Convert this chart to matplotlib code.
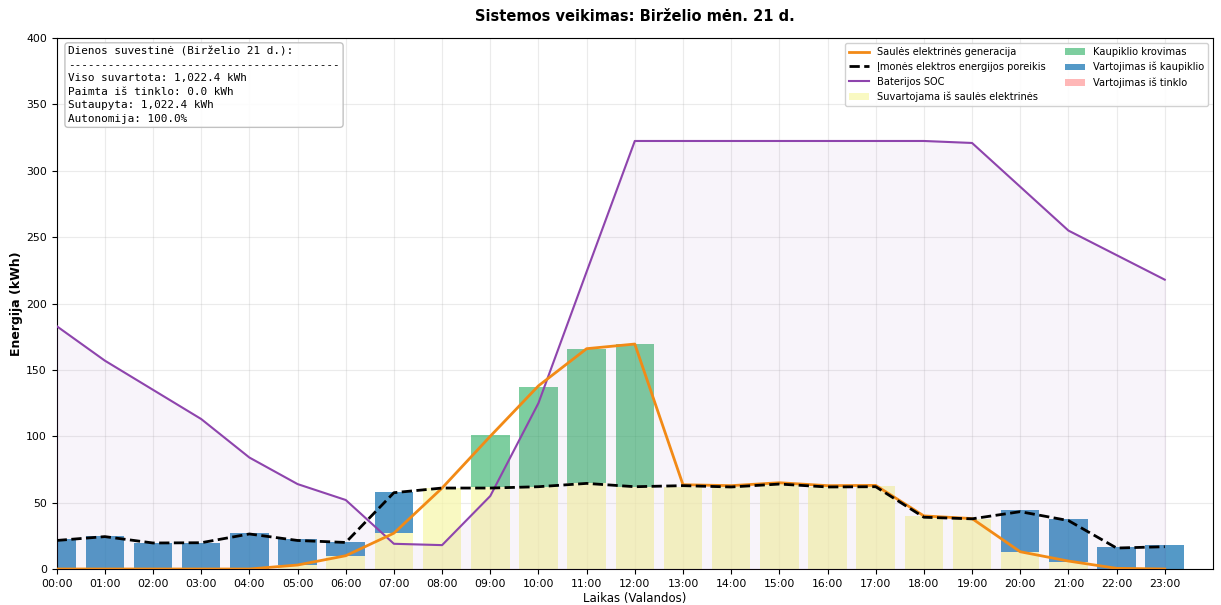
import matplotlib.pyplot as plt
import numpy as np

hours = list(range(24))
hour_labels = [f"{h:02d}:00" for h in hours]

# hourly values (kWh)
solar = [0, 0, 0, 0, 0, 3, 10, 27, 61, 100, 138, 166, 169.5, 63.5,
         62.8, 65, 62.8, 63, 40, 38, 13, 6, 0.5, 0]
demand = [21.5, 24.4, 19.6, 19.8, 26.4, 21.5, 20, 57.5, 61, 61, 62, 64.5, 62, 62.8,
          61.8, 64, 61.8, 62, 39, 37.8, 43.2, 36.5, 15.8, 16.8]
soc = [183, 157, 135, 113, 84, 64, 52, 19, 18, 55, 125, 224, 322.5, 322.5,
       322.5, 322.5, 322.5, 322.5, 322.5, 321, 288, 255, 236.5, 218]

solar_used = [0, 0, 0, 0, 0, 3, 9.8, 26.9, 61, 62, 62, 64.5, 62, 62,
              62, 64, 62, 62.5, 40, 38, 13, 5.5, 0, 0]
charge = [0, 0, 0, 0, 0, 0, 0, 0, 0, 39, 75, 101, 107.5, 0,
          0, 0, 0, 0, 0, 0, 0, 0, 0, 0]
discharge = [22.3, 25.1, 19.8, 19.8, 26.9, 19.6, 10.8, 31.4, 0, 0, 0, 0, 0, 0,
             0, 0, 0, 0, 0, 0, 31.4, 32.2, 16.8, 18]
grid = [0] * 24

summary = ("Dienos suvestinė (Birželio 21 d.):\n"
           + "-" * 41 + "\n"
           "Viso suvartota: 1,022.4 kWh\n"
           "Paimta iš tinklo: 0.0 kWh\n"
           "Sutaupyta: 1,022.4 kWh\n"
           "Autonomija: 100.0%")

fig, ax = plt.subplots(figsize=(12.21, 6.05), dpi=100)
fig.subplots_adjust(left=0.0464, right=0.9934, top=0.937, bottom=0.0595)

x = np.array(hours)
w = 0.8
su = np.array(solar_used)
ch = np.array(charge)
dis = np.array(discharge)

b_sun = ax.bar(x, su, w, color='#f7f7a8', alpha=0.7, label='Suvartojama iš saulės elektrinės', zorder=2)
b_ch = ax.bar(x, ch, w, bottom=su, color='#27ae60', alpha=0.6, label='Kaupiklio krovimas', zorder=2)
b_dis = ax.bar(x, dis, w, bottom=su, color='#2980b9', alpha=0.8, label='Vartojimas iš kaupiklio', zorder=2)
b_grid = ax.bar(x, grid, w, bottom=su + dis, color='#ff9999', alpha=0.7, label='Vartojimas iš tinklo', zorder=2)

ax.fill_between(x, soc, color='#8e44ad', alpha=0.06, zorder=3)

l_sol, = ax.plot(x, solar, color='#f28a16', lw=2, label='Saulės elektrinės generacija', zorder=5)
l_dem, = ax.plot(x, demand, color='black', lw=2, ls='--', label='Įmonės elektros energijos poreikis', zorder=6)
l_soc, = ax.plot(x, soc, color='#8e44ad', lw=1.5, label='Baterijos SOC', zorder=4)

ax.set_xlim(0, 24)
ax.set_ylim(0, 400)
ax.set_xticks(x)
ax.set_xticklabels(hour_labels, fontsize=7.8)
ax.tick_params(axis='y', labelsize=7.8)
ax.grid(True, alpha=0.25, zorder=0)
ax.set_axisbelow(True)

ax.set_xlabel('Laikas (Valandos)', fontsize=8.5, labelpad=2)
ax.set_ylabel('Energija (kWh)', fontsize=9, fontweight='bold', labelpad=2)
ax.set_title('Sistemos veikimas: Birželio mėn. 21 d.', fontsize=10.5, fontweight='bold', pad=12)

handles = [l_sol, l_dem, l_soc, b_sun, b_ch, b_dis, b_grid]
ax.legend(handles, [h.get_label() for h in handles],
          loc='upper right', ncol=2, fontsize=7.1, framealpha=0.9)

ax.text(0.01, 0.985, summary, transform=ax.transAxes, va='top', ha='left',
        family='monospace', fontsize=7.9, linespacing=1.45,
        bbox=dict(boxstyle='round', facecolor='white', edgecolor='#bbbbbb', alpha=0.9))

fig.savefig('out.png', dpi=100)
